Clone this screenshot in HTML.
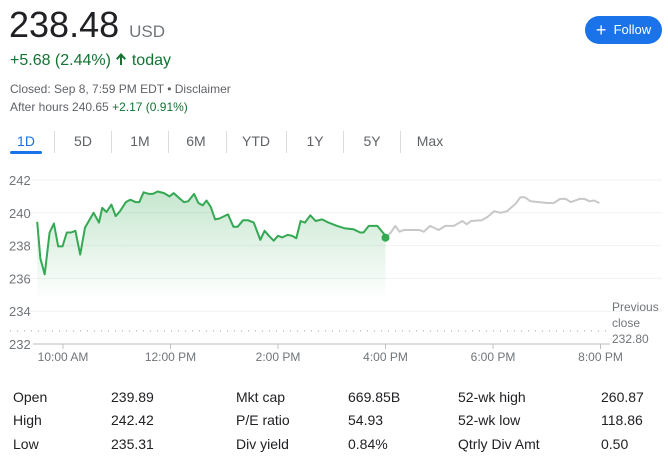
<!DOCTYPE html>
<html><head><meta charset="utf-8">
<style>
body{margin:0;width:668px;height:464px;background:#fff;font-family:"Liberation Sans",Arial,sans-serif;position:relative;overflow:hidden}
.a{position:absolute;white-space:nowrap}
.tab{position:absolute;top:133px;font-size:14px;color:#5f6368;transform:translateX(-50%)}
.sep{position:absolute;top:131px;width:1px;height:22px;background:#dadce0}
.st{position:absolute;font-size:14px;color:#202124}
</style></head><body>
<div class="a" style="left:9px;top:4px;font-size:36px;color:#202124">238.48 <span style="font-size:17px;color:#70757a">USD</span></div>
<div class="a" style="left:10px;top:52px;font-size:16px;color:#137333">+5.68 (2.44%) <svg width="12" height="14" viewBox="0 0 12 14" style="vertical-align:-1px"><path d="M6 1 L1 6.5 L2.4 7.9 L5 5.2 L5 13 L7 13 L7 5.2 L9.6 7.9 L11 6.5 Z" fill="#137333"/></svg> today</div>
<div class="a" style="left:10px;top:82px;font-size:12px;color:#5f6368">Closed: Sep 8, 7:59 PM EDT • <span>Disclaimer</span></div>
<div class="a" style="left:10px;top:100px;font-size:12px;color:#5f6368">After hours 240.65 <span style="color:#137333">+2.17 (0.91%)</span></div>
<div class="a" style="left:585px;top:16px;width:77px;height:28px;border-radius:14px;background:#1a73e8;color:#fff;font-size:13px;line-height:28px;text-align:center"><span style="font-size:18px;vertical-align:-2px">+</span>&nbsp; Follow</div>

<div class="tab" style="left:26px;color:#1a73e8">1D</div>
<div class="a" style="left:10px;top:151px;width:32px;height:3px;background:#1a73e8;border-radius:2px"></div>
<div class="sep" style="left:54px"></div>
<div class="tab" style="left:83px">5D</div>
<div class="sep" style="left:111px"></div>
<div class="tab" style="left:140px">1M</div>
<div class="sep" style="left:168px"></div>
<div class="tab" style="left:196px">6M</div>
<div class="sep" style="left:226px"></div>
<div class="tab" style="left:256px">YTD</div>
<div class="sep" style="left:286px"></div>
<div class="tab" style="left:315px">1Y</div>
<div class="sep" style="left:343px"></div>
<div class="tab" style="left:372px">5Y</div>
<div class="sep" style="left:400px"></div>
<div class="tab" style="left:430px">Max</div>

<svg id="chart" width="668" height="370" style="position:absolute;left:0;top:0">
<defs><linearGradient id="gf" x1="0" y1="0" x2="0" y2="1"><stop offset="0" stop-color="#34a853" stop-opacity="0.28"/><stop offset="1" stop-color="#34a853" stop-opacity="0"/></linearGradient></defs>
</svg>

<div class="st" style="left:13px;top:389px">Open</div>
<div class="st" style="left:111px;top:389px">239.89</div>
<div class="st" style="left:13px;top:412px">High</div>
<div class="st" style="left:111px;top:412px">242.42</div>
<div class="st" style="left:13px;top:436px">Low</div>
<div class="st" style="left:111px;top:436px">235.31</div>
<div class="st" style="left:236px;top:389px">Mkt cap</div>
<div class="st" style="left:348px;top:389px">669.85B</div>
<div class="st" style="left:236px;top:412px">P/E ratio</div>
<div class="st" style="left:348px;top:412px">54.93</div>
<div class="st" style="left:236px;top:436px">Div yield</div>
<div class="st" style="left:348px;top:436px">0.84%</div>
<div class="st" style="left:458px;top:389px">52-wk high</div>
<div class="st" style="left:601px;top:389px">260.87</div>
<div class="st" style="left:458px;top:412px">52-wk low</div>
<div class="st" style="left:601px;top:412px">118.86</div>
<div class="st" style="left:458px;top:436px">Qtrly Div Amt</div>
<div class="st" style="left:601px;top:436px">0.50</div>

<script>
const dayTimes=[9.52,9.58,9.66,9.75,9.83,9.91,9.99,10.07,10.15,10.23,10.32,10.41,10.57,10.67,10.73,10.81,10.90,10.98,11.06,11.17,11.25,11.35,11.42,11.50,11.60,11.67,11.76,11.88,11.98,12.06,12.16,12.25,12.33,12.44,12.52,12.60,12.67,12.75,12.83,12.91,13.07,13.17,13.25,13.35,13.44,13.55,13.67,13.75,13.83,13.92,14.00,14.08,14.18,14.26,14.34,14.42,14.50,14.60,14.70,14.82,14.94,15.10,15.25,15.40,15.53,15.59,15.69,15.85,16.00];
const dayPrices=[239.45,237.2,236.25,238.8,239.35,237.95,237.95,238.8,238.8,238.9,237.45,239.1,240.0,239.4,240.3,240.05,240.5,239.8,240.1,240.65,240.8,240.65,240.65,241.25,241.15,241.15,241.3,241.2,241.0,241.2,240.9,240.65,240.7,241.15,240.6,240.45,240.75,240.35,239.6,239.65,239.9,239.15,239.15,239.55,239.55,239.4,238.35,238.9,238.6,238.3,238.6,238.5,238.65,238.6,238.45,239.5,239.4,239.85,239.5,239.6,239.4,239.2,239.05,239.0,238.8,238.8,239.2,239.2,238.6];
const ahTimes=[16.00,16.10,16.18,16.26,16.34,16.48,16.63,16.71,16.83,16.99,17.11,17.27,17.43,17.51,17.59,17.79,17.90,18.02,18.14,18.26,18.42,18.51,18.59,18.70,18.85,19.01,19.13,19.25,19.35,19.45,19.61,19.70,19.80,19.88,19.98];
const ahPrices=[238.5,238.8,239.2,238.85,238.95,238.95,238.95,238.85,239.2,238.95,239.2,239.2,239.5,239.3,239.5,239.55,239.75,240.1,240.0,240.1,240.55,240.95,240.95,240.7,240.65,240.6,240.6,240.85,240.85,240.65,240.85,240.85,240.7,240.75,240.6];
const yTicks=[242,240,238,236,234,232];
const xTicks=[10,12,14,16,18,20];
const xTickLabels=["10:00 AM","12:00 PM","2:00 PM","4:00 PM","6:00 PM","8:00 PM"];
const prevClose=232.80;
const lastPrice=238.48;

const NS="http://www.w3.org/2000/svg";
const svg=document.getElementById('chart');
const xS=t=>63+(t-10)*53.75;
const yS=v=>180+(242-v)*16.4;
function mk(tag,attrs){const e=document.createElementNS(NS,tag);for(const k in attrs)e.setAttribute(k,attrs[k]);svg.appendChild(e);return e;}

yTicks.forEach(v=>{
  if(v!==232){const g=mk('line',{x1:30,x2:662,y1:yS(v),y2:yS(v),stroke:'#f1f3f4','stroke-width':1});
  
  }
  const t=mk('text',{x:9,y:yS(v)+5,'font-size':13,fill:'#70757a','font-family':'Liberation Sans, sans-serif'});
  t.textContent=v;
  
  
});
const ax=mk('line',{x1:33,x2:610,y1:yS(232),y2:yS(232),stroke:'#c8ccd0','stroke-width':1.2});


xTicks.forEach((h,i)=>{
  const tk=mk('line',{x1:xS(h),x2:xS(h),y1:yS(232),y2:yS(232)+5,stroke:'#bdc1c6'});
  
  
  const t=mk('text',{x:xS(h),y:361,'font-size':12,fill:'#70757a','text-anchor':'middle','font-family':'Liberation Sans, sans-serif'});
  t.textContent=xTickLabels[i];
  
  
});
const pc=mk('line',{x1:10,x2:608,y1:yS(prevClose),y2:yS(prevClose),stroke:'#9aa0a6','stroke-width':1,'stroke-dasharray':'1 6'});


['Previous','close',prevClose.toFixed(2)].forEach((s,i)=>{
  const t=mk('text',{x:612,y:311+i*16,'font-size':12,fill:'#70757a','font-family':'Liberation Sans, sans-serif'});
  t.textContent=s;
  
  
});
const dpts=dayTimes.map((t,i)=>xS(t).toFixed(1)+','+yS(dayPrices[i]).toFixed(1));
const area=mk('path',{d:'M'+dpts.join(' L')+` L${xS(dayTimes[dayTimes.length-1])},300 L${xS(dayTimes[0])},300 Z`,fill:'url(#gf)'});


const ah=mk('polyline',{points:ahTimes.map((t,i)=>xS(t).toFixed(1)+','+yS(ahPrices[i]).toFixed(1)).join(' '),fill:'none',stroke:'#c8c8c8','stroke-width':2,'stroke-linejoin':'round'});


const dl=mk('polyline',{points:dpts.join(' '),fill:'none',stroke:'#34a853','stroke-width':2,'stroke-linejoin':'round'});


const dot=mk('circle',{cx:xS(16),cy:yS(lastPrice),r:4,fill:'#34a853'});


</script>
</body></html>
